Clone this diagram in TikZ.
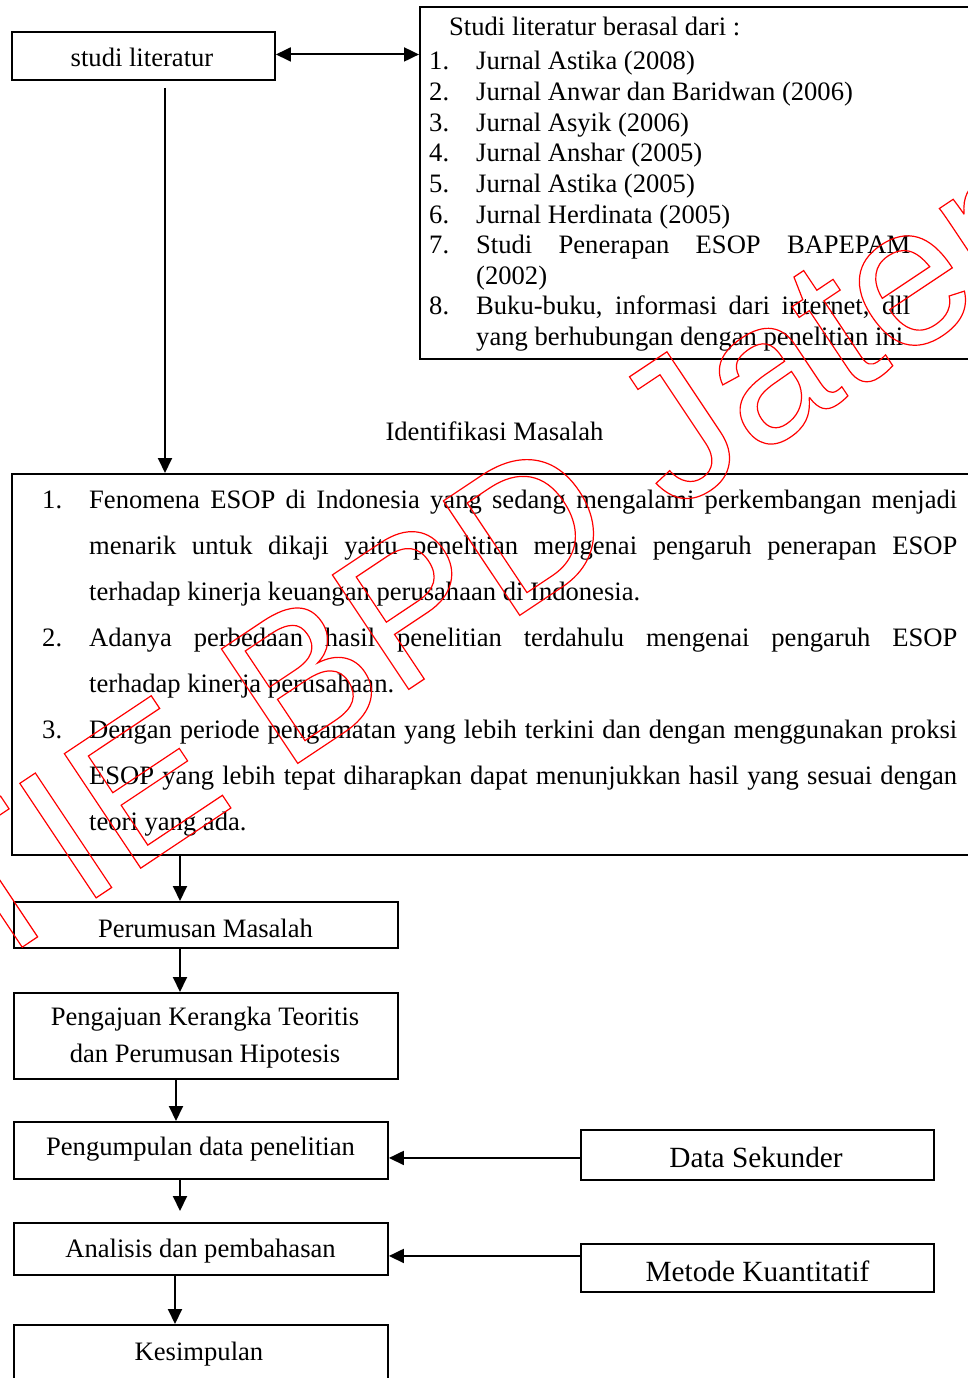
\documentclass[tikz,border=0pt]{standalone}
\usepackage{fontspec}
\setmainfont{Liberation Serif}
\newfontfamily\wmfont{Liberation Sans}
\usetikzlibrary{arrows.meta}
\newcommand\wmoutline[1]{\special{pdf:literal direct 1 Tr 1.2 w}#1\special{pdf:literal direct 0 Tr}}
\begin{document}
\begin{tikzpicture}[x=1pt,y=-1pt,
  box/.style={draw, line width=1.9pt, inner sep=0pt, anchor=north west},
  arr/.style={-{Triangle[length=15pt,width=14pt]}, line width=1.9pt},
  darr/.style={{Triangle[length=15pt,width=14pt]}-{Triangle[length=15pt,width=14pt]}, line width=1.9pt},
  lbl/.style={anchor=base, inner sep=0pt, font=\fontsize{26.6}{32}\selectfont},
  lblb/.style={anchor=base, inner sep=0pt, font=\fontsize{29.3}{34}\selectfont},
  lw/.style={anchor=base west, inner sep=0pt, font=\fontsize{26.6}{32}\selectfont},
  wm/.style={anchor=base west, inner sep=0pt, rotate=33.7, text=red, font=\wmfont\fontsize{200}{240}\selectfont}]
\useasboundingbox (0,0) rectangle (967,1378);

% boxes
\node[box, minimum width=263, minimum height=48] (lit) at (11,31) {};
\node[box, minimum width=571, minimum height=352] (src) at (419,6) {};
\node[box, minimum width=979, minimum height=381] (main) at (11,473) {};
\node[box, minimum width=384, minimum height=46] (perum) at (13,901) {};
\node[box, minimum width=384, minimum height=86] (ajuan) at (13,992) {};
\node[box, minimum width=374, minimum height=57] (kumpul) at (13,1121) {};
\node[box, minimum width=374, minimum height=52] (anal) at (13,1222) {};
\node[box, minimum width=374, minimum height=71] (kesim) at (13,1324) {};
\node[box, minimum width=353, minimum height=50] (datas) at (580,1129) {};
\node[box, minimum width=353, minimum height=48] (metod) at (580,1243) {};

% box texts
\node[lbl] (tlit) at (142,67) {studi literatur};
\node[lbl] (tperum) at (205.5,937) {Perumusan Masalah};
\node[lbl] (tajuan1) at (205,1025) {Pengajuan Kerangka Teoritis};
\node[lbl] (tajuan2) at (205,1062) {dan Perumusan Hipotesis};
\node[lbl] (tkumpul) at (200.5,1155) {Pengumpulan data penelitian};
\node[lbl] (tanal) at (200.5,1257) {Analisis dan pembahasan};
\node[lbl] (tkesim) at (199,1360) {Kesimpulan};
\node[lblb] (tdatas) at (756,1167) {Data Sekunder};
\node[lblb] (tmetod) at (757.5,1281) {Metode Kuantitatif};
\node[lbl] (tid) at (494.5,440) {Identifikasi Masalah};

% source list
\node[lw] (stitle) at (449,36) {Studi literatur berasal dari :};
\foreach \n/\t/\b in {1./Jurnal Astika (2008)/70, 2./Jurnal Anwar dan Baridwan (2006)/100.6,
  3./Jurnal Asyik (2006)/131.2, 4./Jurnal Anshar (2005)/161.8, 5./Jurnal Astika (2005)/192.4,
  6./Jurnal Herdinata (2005)/223}{
  \node[lw] at (429,\b) {\n};
  \node[lw] at (476,\b) {\t};
}
\node[lw] (n7) at (429,253.6) {7.};
\node[lw] (s7a) at (476,253.6) {\makebox[434pt][s]{Studi Penerapan ESOP BAPEPAM}};
\node[lw] (s7b) at (476,284.2) {(2002)};
\node[lw] (n8) at (429,314.8) {8.};
\node[lw] (s8a) at (476,314.8) {\makebox[434pt][s]{Buku-buku, informasi dari internet, dll}};
\node[lw] (s8b) at (476,345.4) {yang berhubungan dengan penelitian ini};

% main list
\node[lw] (m1) at (42,508) {1.};
\node[lw] (m1a) at (89,508) {\makebox[868pt][s]{Fenomena ESOP di Indonesia yang sedang mengalami perkembangan menjadi}};
\node[lw] (m1b) at (89,554) {\makebox[868pt][s]{menarik untuk dikaji yaitu penelitian mengenai pengaruh penerapan ESOP}};
\node[lw] (m1c) at (89,600) {terhadap kinerja keuangan perusahaan di Indonesia.};
\node[lw] (m2) at (42,646) {2.};
\node[lw] (m2a) at (89,646) {\makebox[868pt][s]{Adanya perbedaan hasil penelitian terdahulu mengenai pengaruh ESOP}};
\node[lw] (m2b) at (89,692) {terhadap kinerja perusahaan.};
\node[lw] (m3) at (42,738) {3.};
\node[lw] (m3a) at (89,738) {\makebox[868pt][s]{Dengan periode pengamatan yang lebih terkini dan dengan menggunakan proksi}};
\node[lw] (m3b) at (89,784) {\makebox[868pt][s]{ESOP yang lebih tepat diharapkan dapat menunjukkan hasil yang sesuai dengan}};
\node[lw] (m3c) at (89,830) {teori yang ada.};

% helper coordinates
\coordinate (litout) at (165,88);
\coordinate (x180) at (180,0);
\coordinate (x176) at (176,0);
\coordinate (x175) at (175,0);

% connectors
\draw[darr] ([yshift=1.5pt]lit.east) -- ([yshift=1.5pt]src.west |- lit.east);
\draw[arr] (litout) -- (litout |- main.north);
\draw[arr] (main.south -| x180) -- (perum.north -| x180);
\draw[arr] (perum.south -| x180) -- (ajuan.north -| x180);
\draw[arr] (ajuan.south -| x176) -- (kumpul.north -| x176);
\draw[arr, shorten >=11pt] (kumpul.south -| x180) -- (anal.north -| x180);
\draw[arr] (anal.south -| x175) -- (kesim.north -| x175);
\draw[arr] ([yshift=-3pt]datas.west) -- ([yshift=-3pt]kumpul.east |- datas.west);
\draw[arr] ([yshift=12pt]metod.west) -- ([yshift=12pt]anal.east |- metod.west);

% watermark
\node[wm] (wmark) at (-132,1050) {\wmoutline{STIE BPD Jateng}};
\end{tikzpicture}
\end{document}
